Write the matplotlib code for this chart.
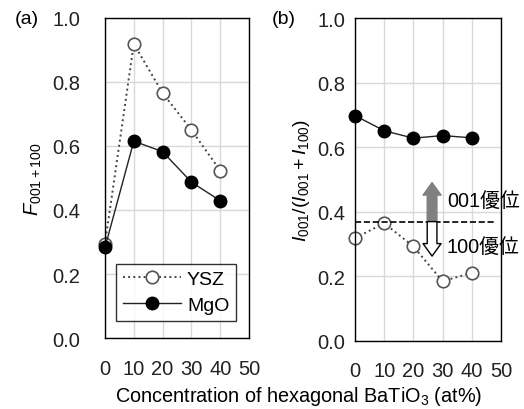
import matplotlib
matplotlib.use("Agg")
import matplotlib.pyplot as plt

plt.rcParams['font.family'] = ['Liberation Sans', 'Noto Sans CJK JP', 'DejaVu Sans']
plt.rcParams['mathtext.fontset'] = 'custom'
plt.rcParams['mathtext.rm'] = 'Liberation Sans'
plt.rcParams['mathtext.it'] = 'Liberation Sans:italic'

conc = [0, 10, 20, 30, 40]
xticks = [0, 10, 20, 30, 40, 50]
yticks = [0.0, 0.2, 0.4, 0.6, 0.8, 1.0]

# (a) Lotgering factor F001+100
f_ysz = [0.295, 0.919, 0.765, 0.650, 0.523]
f_mgo = [0.283, 0.615, 0.582, 0.487, 0.429]

# (b) I001/(I001+I100)
r_mgo = [0.698, 0.651, 0.628, 0.636, 0.629]
r_ysz = [0.318, 0.364, 0.292, 0.184, 0.210]
r_random = 0.369  # random orientation level
arrow_x = 26.4

fig = plt.figure(figsize=(5.24, 4.10), dpi=100)
ax1 = fig.add_axes([0.2004, 0.173, 0.2748, 0.781])
ax2 = fig.add_axes([0.6775, 0.167, 0.2785, 0.786])

tick_fs = 14.5
for ax in (ax1, ax2):
    ax.set_xlim(0, 50)
    ax.set_ylim(0, 1.0)
    ax.set_xticks(xticks)
    ax.set_yticks(yticks)
    ax.set_yticklabels(['%.1f' % v for v in yticks])
    ax.grid(True, color='#d9d9d9', linewidth=1.0)
    ax.set_axisbelow(True)
    for s in ax.spines.values():
        s.set_color('black')
        s.set_linewidth(1.0)
    ax.tick_params(length=0, labelsize=tick_fs, colors='#222222')
    ax.tick_params(axis='x', pad=15)

ax1.tick_params(axis='y', pad=18)
ax2.tick_params(axis='y', pad=7)

ysz_style = dict(linestyle=':', color='#444444', linewidth=1.4, marker='o',
                 markersize=9, markerfacecolor='white', markeredgecolor='#555555',
                 markeredgewidth=1.2)
mgo_style = dict(linestyle='-', color='#222222', linewidth=1.0, marker='o',
                 markersize=9, markerfacecolor='black', markeredgecolor='black')

ax1.plot(conc, f_ysz, label='YSZ', **ysz_style)
ax1.plot(conc, f_mgo, label='MgO', **mgo_style)
for ln in ax1.lines:
    ln.set_clip_on(False)
leg = ax1.legend(loc='lower left', bbox_to_anchor=(0.076, 0.053), fontsize=14,
                 frameon=True, fancybox=False, edgecolor='black',
                 handlelength=3.0, borderpad=0.35, labelspacing=0.45,
                 borderaxespad=0, handletextpad=0.3)
leg.get_frame().set_linewidth(1.0)
ax1.set_ylabel(r'$\mathit{F}_{\mathrm{001+100}}$', fontsize=14.5, labelpad=6)

ax2.plot(conc, r_mgo, **mgo_style)
ax2.plot(conc, r_ysz, **ysz_style)
for ln in ax2.lines:
    ln.set_clip_on(False)
ax2.plot([0, 47.5], [r_random, r_random], linestyle='--', color='black', linewidth=1.2)
ax2.annotate('', xy=(arrow_x, 0.49), xytext=(arrow_x, r_random),
             arrowprops=dict(facecolor='#808080', edgecolor='#808080',
                             width=7, headwidth=13, headlength=9, shrink=0))
ax2.annotate('', xy=(arrow_x, 0.262), xytext=(arrow_x, r_random),
             arrowprops=dict(facecolor='white', edgecolor='black', linewidth=1.0,
                             width=7, headwidth=13, headlength=9, shrink=0))
ax2.text(31.5, 0.435, '001優位', fontsize=14.3, va='center', ha='left')
ax2.text(31.5, 0.292, '100優位', fontsize=14.3, va='center', ha='left')
ax2.set_ylabel(r'$\mathit{I}_{\mathrm{001}}/(\mathit{I}_{\mathrm{001}}+\mathit{I}_{\mathrm{100}})$',
               fontsize=14, labelpad=4)

fig.text(0.028, 0.953, '(a)', fontsize=14, va='center', ha='left')
fig.text(0.518, 0.953, '(b)', fontsize=14, va='center', ha='left')
fig.text(0.569, 0.032, 'Concentration of hexagonal BaTiO$_3$ (at%)', fontsize=14.3,
         ha='center', va='center')

fig.savefig('out.png', dpi=100)
